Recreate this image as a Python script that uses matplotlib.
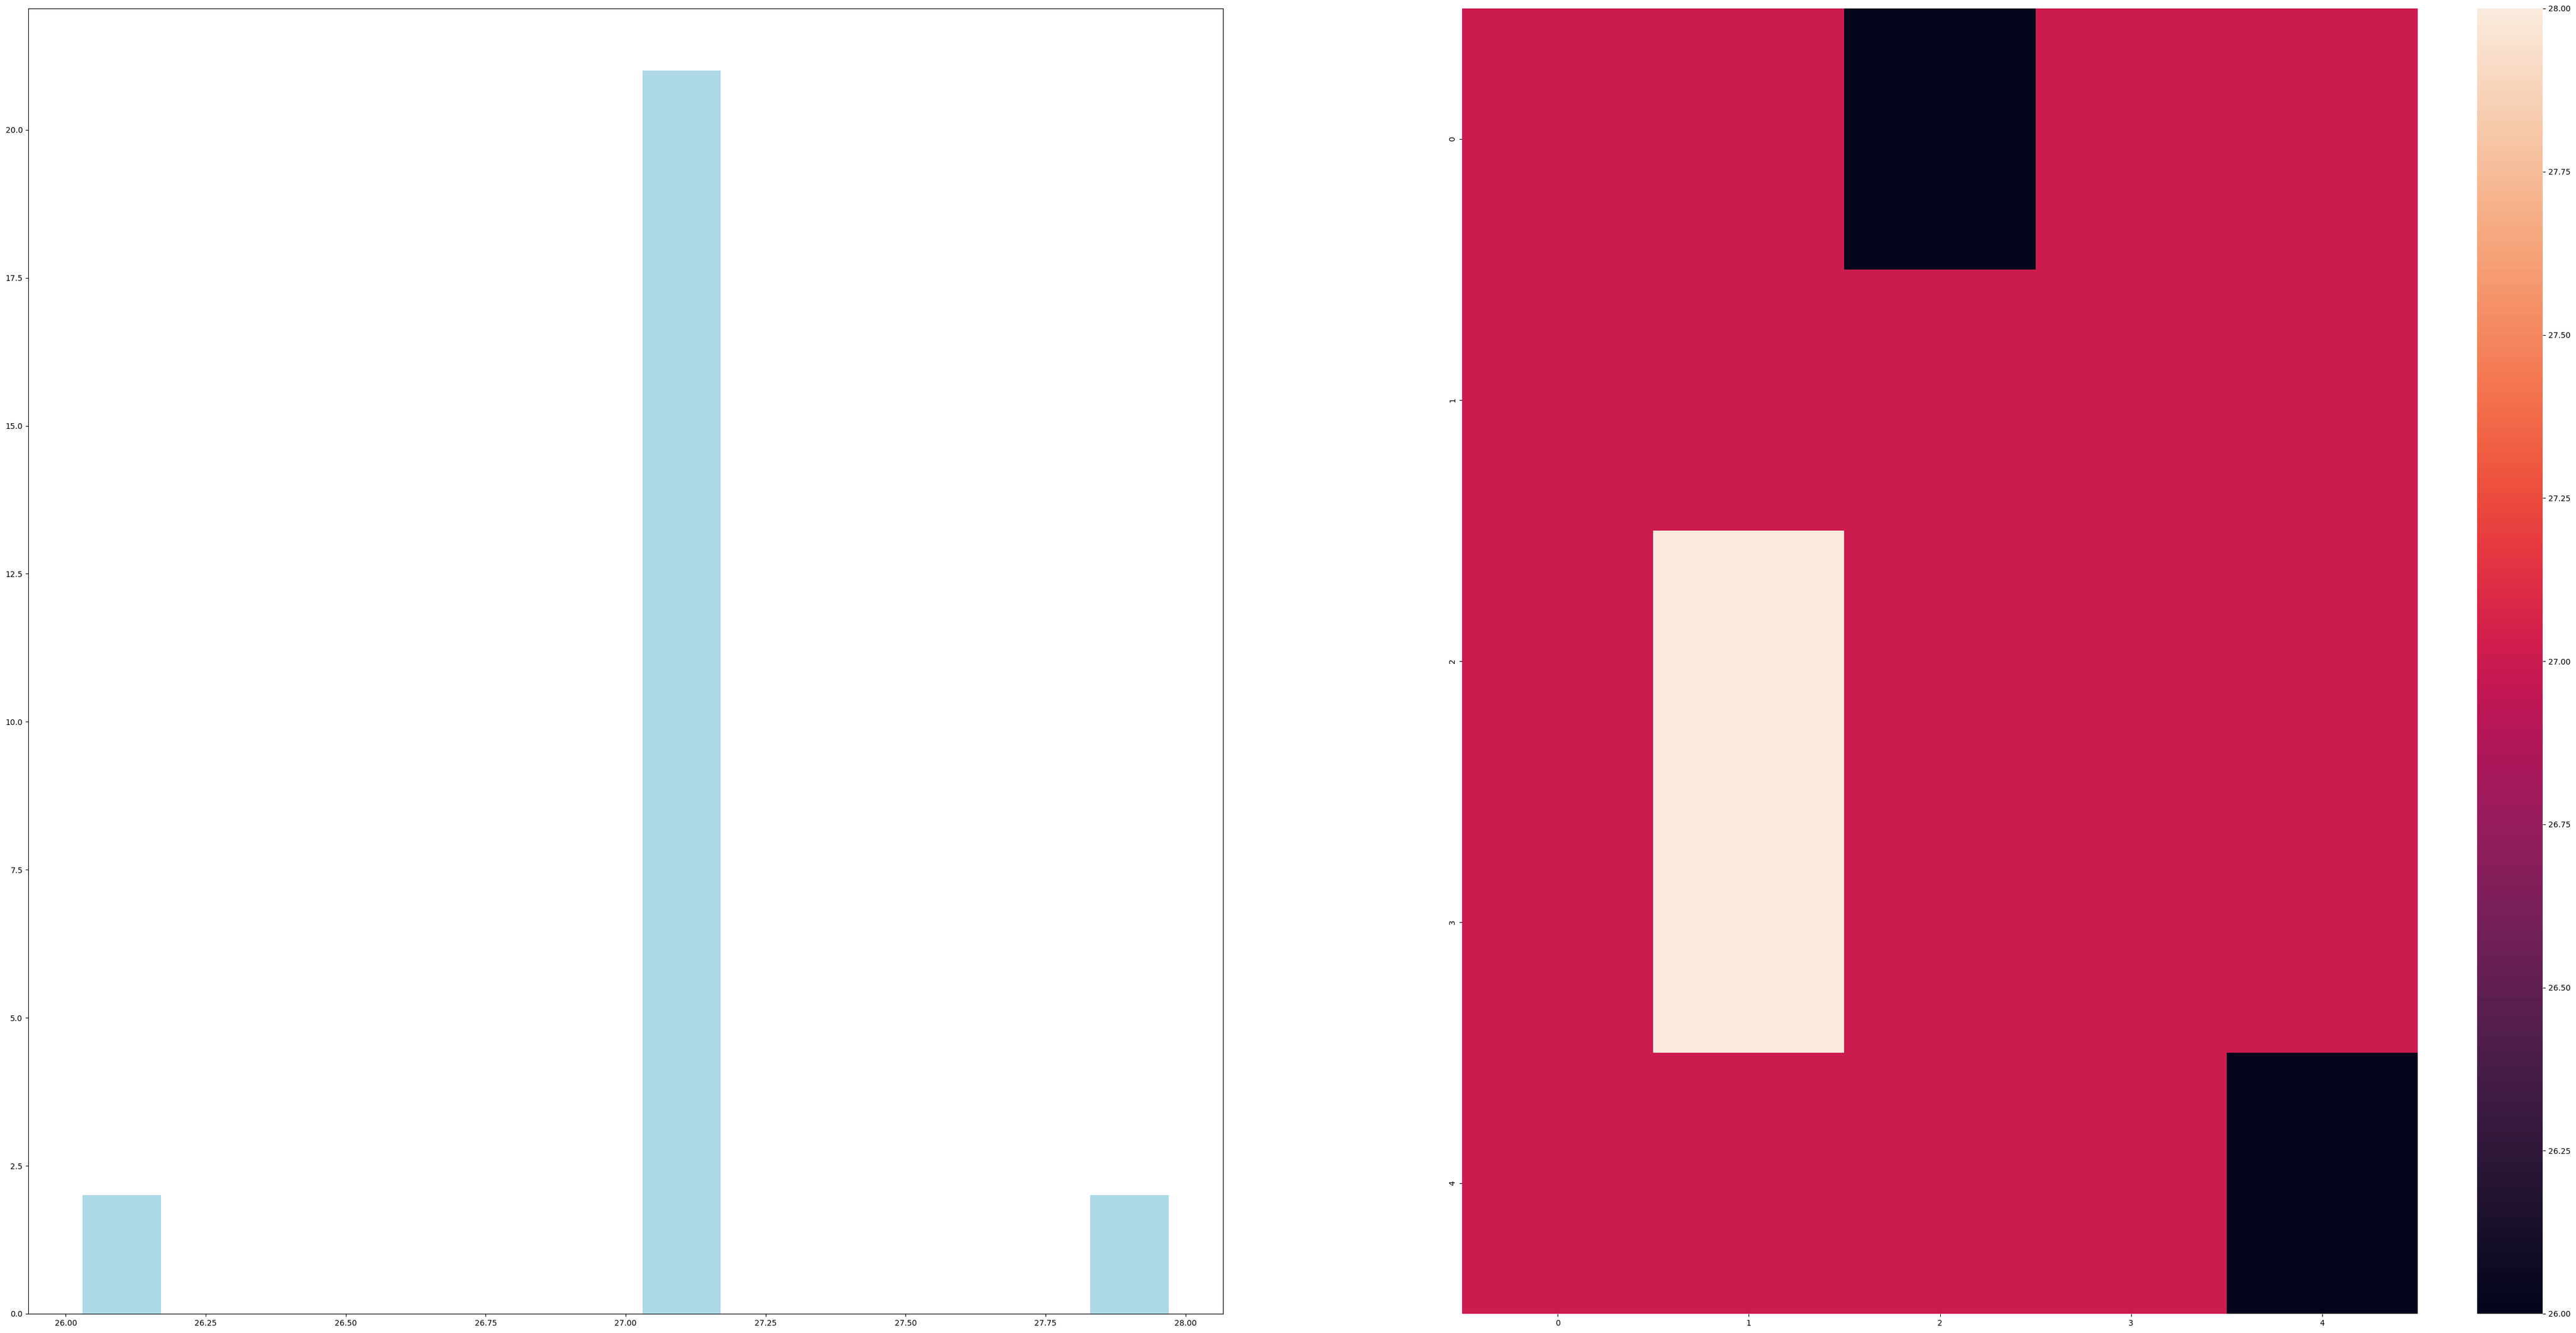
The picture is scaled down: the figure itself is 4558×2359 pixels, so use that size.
import numpy as np
import matplotlib
matplotlib.use("Agg")
import matplotlib.pyplot as plt
import seaborn as sns

# edades de la muestra (valor, cantidad)
valores = [26, 27, 28]
cantidades = [2, 21, 2]
edades = np.repeat(valores, cantidades)

# matriz para el heatmap
matriz = np.array([
    [27, 27, 26, 27, 27],
    [27, 27, 27, 27, 27],
    [27, 28, 27, 27, 27],
    [27, 28, 27, 27, 27],
    [27, 27, 27, 27, 26],
])

W, H = 4558, 2359
fig = plt.figure(figsize=(W / 100, H / 100), dpi=100)

ax1 = fig.add_axes([50 / W, 1 - 2325 / H, (2164 - 50) / W, (2325 - 15) / H])
ax1.hist(edades, bins=10, rwidth=0.7, color='lightblue')

ax2 = fig.add_axes([2587 / W, 1 - 2325 / H, (4278 - 2587) / W, (2325 - 15) / H])
cax = fig.add_axes([4383 / W, 1 - 2325 / H, (4499 - 4383) / W, (2325 - 15) / H])
sns.heatmap(matriz, ax=ax2, cbar_ax=cax)

fig.savefig('out.png', dpi=100)
